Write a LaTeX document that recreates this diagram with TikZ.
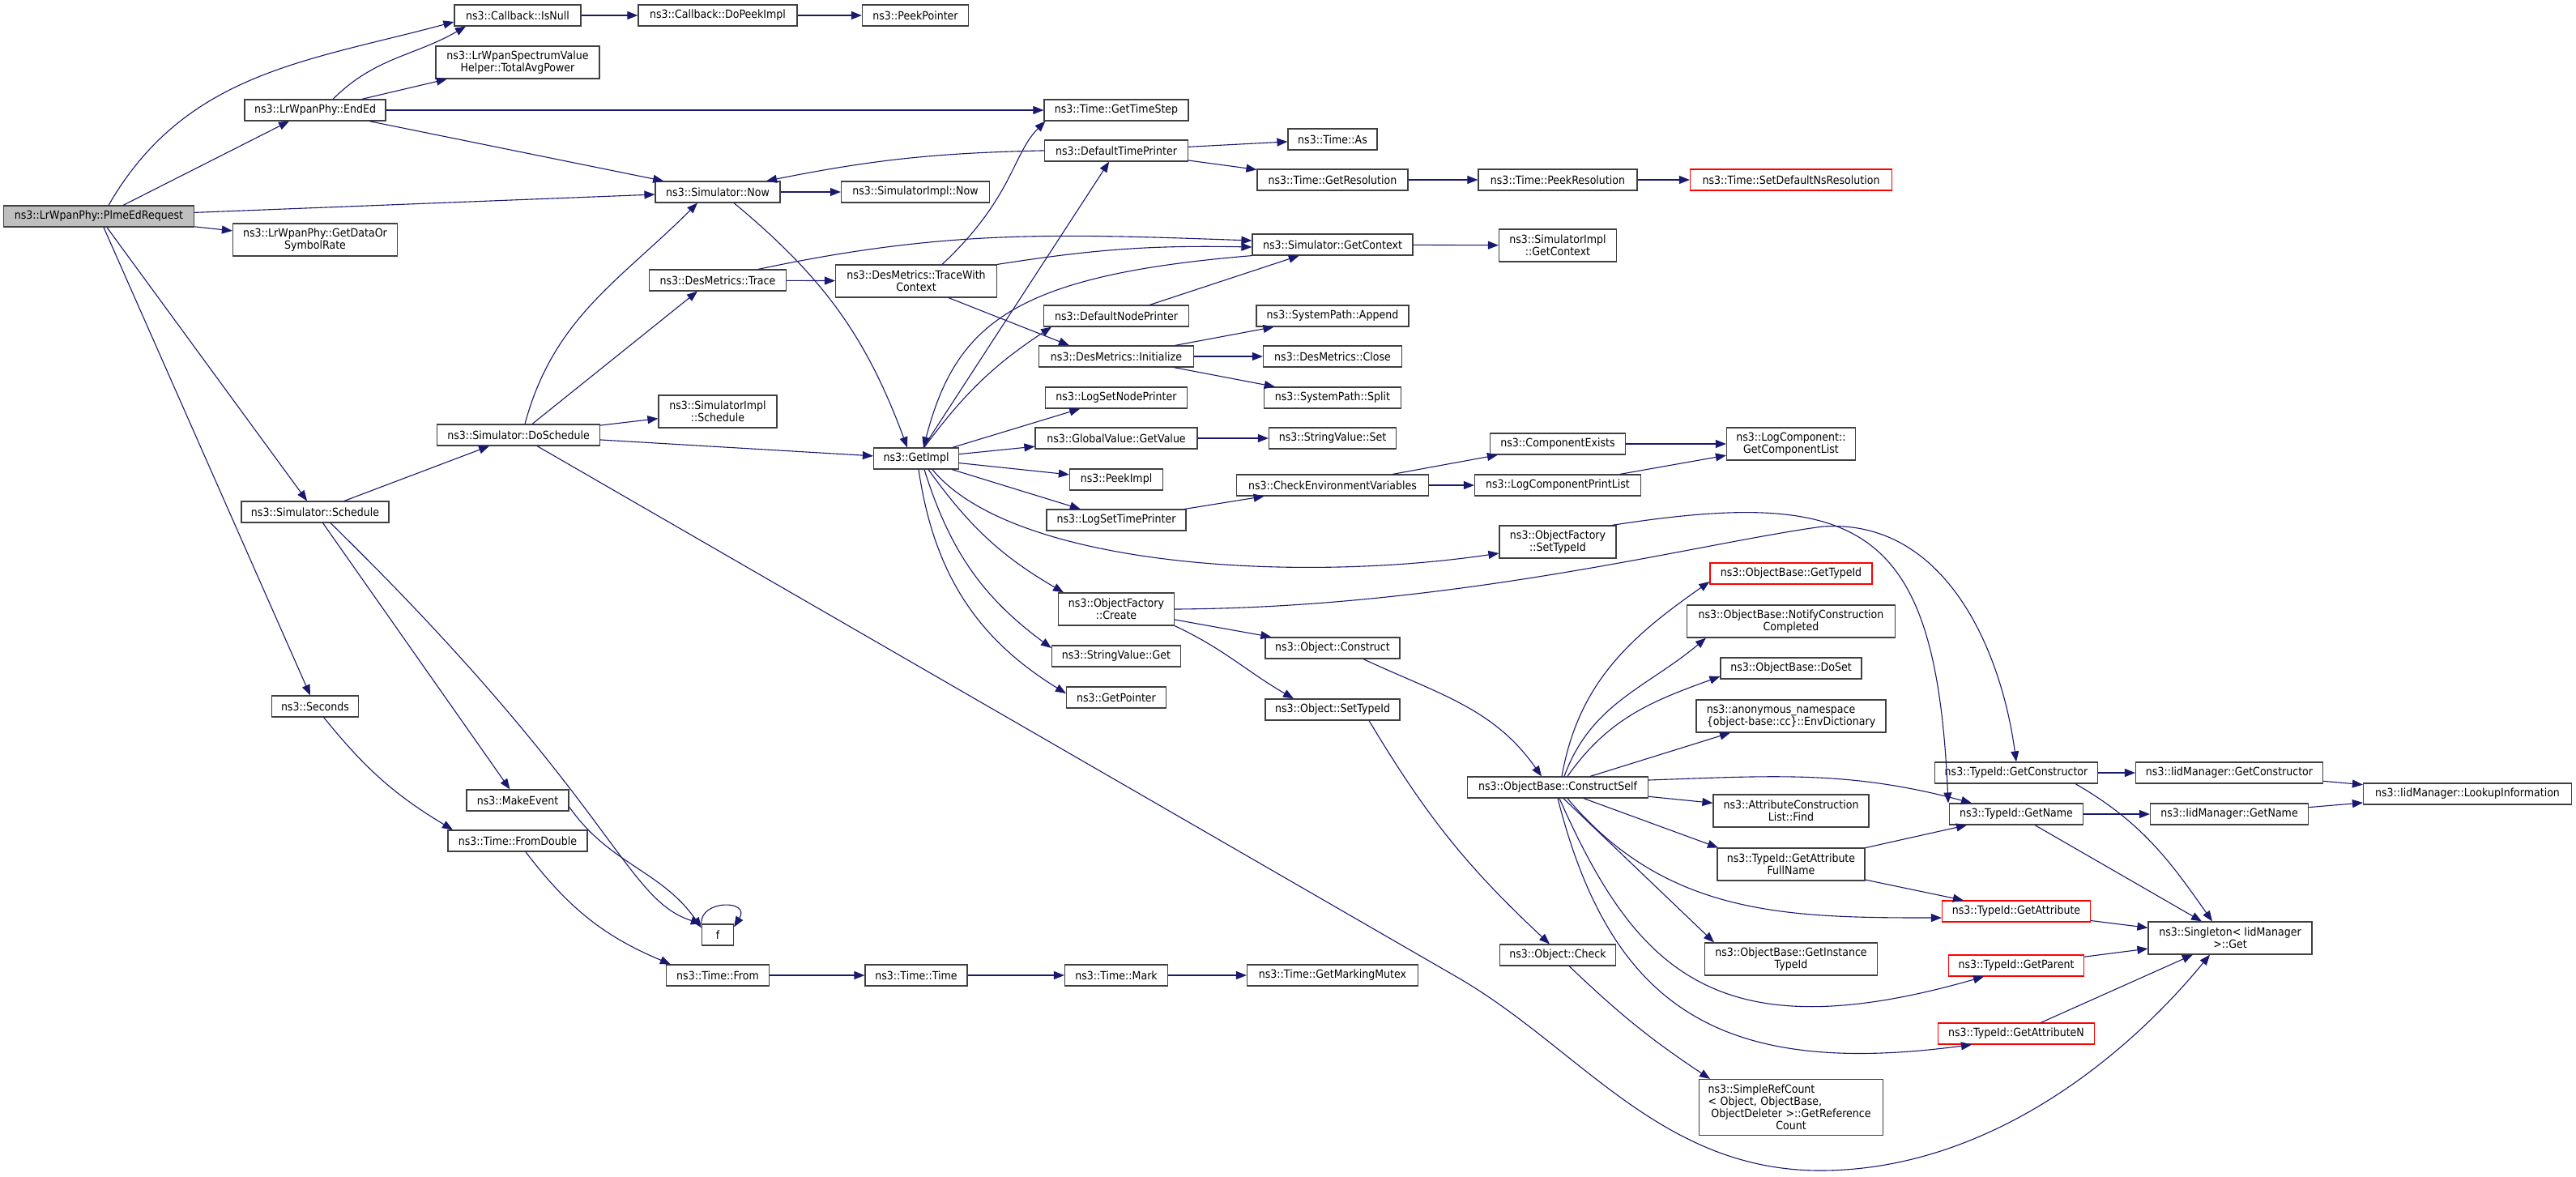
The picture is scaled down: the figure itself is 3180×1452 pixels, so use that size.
\documentclass[tikz,border=0pt]{standalone}
\usepackage{fontspec}
\setmainfont{DejaVu Sans}[FakeStretch=0.9]
\usetikzlibrary{arrows.meta}
\definecolor{edgeblue}{HTML}{191970}

\begin{document}
\begin{tikzpicture}[x=1pt,y=-1pt,
    fn/.style={draw=black!75, line width=1.2pt, fill=white, minimum height=26, inner sep=2pt,
      align=center, font=\fontsize{14}{15}\selectfont},
    twoline/.style={minimum height=40},
    missing/.style={draw=red},
    rootfn/.style={fill=gray!50},
    call/.style={draw=edgeblue, line width=1.1pt, -{Triangle[length=13pt,width=10pt]}}]
        \useasboundingbox (0,0) rectangle (3180,1452);

        \node[fn, rootfn, minimum width=235] (plme) at (122,267) {ns3::LrWpanPhy::PlmeEdRequest};
        \node[fn, minimum width=156] (isnull) at (639,19) {ns3::Callback::IsNull};
        \node[fn, twoline, minimum width=202] (avgpow) at (639,77) {ns3::LrWpanSpectrumValue\\Helper::TotalAvgPower};
        \node[fn, minimum width=174] (ended) at (389,136) {ns3::LrWpanPhy::EndEd};
        \node[fn, twoline, minimum width=203] (rate) at (389,296) {ns3::LrWpanPhy::GetDataOr\\SymbolRate};
        \node[fn, minimum width=182] (sschedule) at (389,632) {ns3::Simulator::Schedule};
        \node[fn, minimum width=107] (seconds) at (389,872) {ns3::Seconds};

        \node[fn, minimum width=196] (dopeek) at (886,19) {ns3::Callback::DoPeekImpl};
        \node[fn, minimum width=131] (peekptr) at (1130,19) {ns3::PeekPointer};
        \node[fn, minimum width=154] (now) at (886,237) {ns3::Simulator::Now};
        \node[fn, minimum width=183] (implnow) at (1130,237) {ns3::SimulatorImpl::Now};
        \node[fn, minimum width=169] (trace) at (886,346) {ns3::DesMetrics::Trace};
        \node[fn, twoline, minimum width=199] (twc) at (1131,347) {ns3::DesMetrics::TraceWith\\Context};
        \node[fn, minimum width=201] (doschedule) at (640,537) {ns3::Simulator::DoSchedule};
        \node[fn, twoline, minimum width=146] (implsched) at (886,508) {ns3::SimulatorImpl\\::Schedule};
        \node[fn, minimum width=126] (makeevent) at (639,988) {ns3::MakeEvent};
        \node[fn, minimum width=172] (fromdouble) at (639,1038) {ns3::Time::FromDouble};
        \node[fn, minimum width=39] (f) at (886,1154) {f};
        \node[fn, minimum width=127] (tfrom) at (886,1204) {ns3::Time::From};
        \node[fn, minimum width=126] (ttime) at (1131,1204) {ns3::Time::Time};
        \node[fn, minimum width=127] (tmark) at (1378,1204) {ns3::Time::Mark};
        \node[fn, minimum width=211] (mutex) at (1645,1204) {ns3::Time::GetMarkingMutex};

        \node[fn, minimum width=105] (getimpl) at (1131,566) {ns3::GetImpl};
        \node[fn, minimum width=178] (timestep) at (1378,136) {ns3::Time::GetTimeStep};
        \node[fn, minimum width=177] (dtp) at (1378,186) {ns3::DefaultTimePrinter};
        \node[fn, minimum width=179] (dnp) at (1378,390) {ns3::DefaultNodePrinter};
        \node[fn, minimum width=191] (init) at (1378,440) {ns3::DesMetrics::Initialize};
        \node[fn, minimum width=175] (lsnp) at (1378,491) {ns3::LogSetNodePrinter};
        \node[fn, minimum width=200] (gvget) at (1378,541) {ns3::GlobalValue::GetValue};
        \node[fn, minimum width=115] (peekimpl) at (1378,592) {ns3::PeekImpl};
        \node[fn, minimum width=172] (lstp) at (1378,642) {ns3::LogSetTimePrinter};
        \node[fn, twoline, minimum width=143] (ofcreate) at (1378,752) {ns3::ObjectFactory\\::Create};
        \node[fn, minimum width=159] (svget) at (1378,810) {ns3::StringValue::Get};
        \node[fn, minimum width=123] (getptr) at (1378,861) {ns3::GetPointer};

        \node[fn, minimum width=110] (as) at (1645,172) {ns3::Time::As};
        \node[fn, minimum width=186] (getres) at (1645,222) {ns3::Time::GetResolution};
        \node[fn, minimum width=198] (ctx) at (1645,302) {ns3::Simulator::GetContext};
        \node[fn, minimum width=188] (append) at (1645,390) {ns3::SystemPath::Append};
        \node[fn, minimum width=171] (close) at (1645,440) {ns3::DesMetrics::Close};
        \node[fn, minimum width=169] (split) at (1645,491) {ns3::SystemPath::Split};
        \node[fn, minimum width=157] (svset) at (1645,541) {ns3::StringValue::Set};
        \node[fn, minimum width=237] (cev) at (1645,599) {ns3::CheckEnvironmentVariables};
        \node[fn, minimum width=166] (oconstruct) at (1645,800) {ns3::Object::Construct};
        \node[fn, minimum width=166] (osettid) at (1645,876) {ns3::Object::SetTypeId};

        \node[fn, minimum width=196] (peekres) at (1923,222) {ns3::Time::PeekResolution};
        \node[fn, twoline, minimum width=145] (implctx) at (1923,303) {ns3::SimulatorImpl\\::GetContext};
        \node[fn, minimum width=167] (cexists) at (1923,548) {ns3::ComponentExists};
        \node[fn, minimum width=205] (lcpl) at (1923,599) {ns3::LogComponentPrintList};
        \node[fn, twoline, minimum width=144] (ofsettid) at (1923,669) {ns3::ObjectFactory\\::SetTypeId};
        \node[fn, minimum width=223] (cself) at (1923,972) {ns3::ObjectBase::ConstructSelf};
        \node[fn, minimum width=143] (check) at (1923,1179) {ns3::Object::Check};

        \node[fn, missing, minimum width=249] (setdef) at (2211,222) {ns3::Time::SetDefaultNsResolution};
        \node[fn, twoline, minimum width=159] (complist) at (2211,548) {ns3::LogComponent::\\GetComponentList};
        \node[fn, missing, minimum width=200] (obgettid) at (2211,708) {ns3::ObjectBase::GetTypeId};
        \node[fn, twoline, minimum width=257] (notify) at (2211,767) {ns3::ObjectBase::NotifyConstruction\\Completed};
        \node[fn, minimum width=174] (doset) at (2211,825) {ns3::ObjectBase::DoSet};
        \node[fn, twoline, align=left, minimum width=234] (envdict) at (2211,884) {ns3::anonymous\_namespace\\\{object-base::cc\}::EnvDictionary};
        \node[fn, twoline, minimum width=192] (acfind) at (2211,1001) {ns3::AttributeConstruction\\List::Find};
        \node[fn, twoline, minimum width=182] (fullname) at (2211,1067) {ns3::TypeId::GetAttribute\\FullName};
        \node[fn, twoline, minimum width=213] (instid) at (2211,1184) {ns3::ObjectBase::GetInstance\\TypeId};
        \node[fn, minimum height=69, minimum width=227, text width=205] (refcount) at (2211,1367)
          {\makebox[\linewidth][l]{ns3::SimpleRefCount}\\\makebox[\linewidth][l]{< Object, ObjectBase,}\\ObjectDeleter >::GetReference\\Count};

        \node[fn, minimum width=201] (getctor) at (2489,954) {ns3::TypeId::GetConstructor};
        \node[fn, minimum width=165] (getname) at (2489,1005) {ns3::TypeId::GetName};
        \node[fn, missing, minimum width=183] (getattr) at (2489,1125) {ns3::TypeId::GetAttribute};
        \node[fn, missing, minimum width=167] (getparent) at (2489,1192) {ns3::TypeId::GetParent};
        \node[fn, missing, minimum width=193] (getattrn) at (2489,1276) {ns3::TypeId::GetAttributeN};
        \node[fn, minimum width=231] (iidctor) at (2752,954) {ns3::IidManager::GetConstructor};
        \node[fn, minimum width=195] (iidname) at (2752,1005) {ns3::IidManager::GetName};
        \node[fn, twoline, minimum width=202] (singleton) at (2753,1158) {ns3::Singleton< IidManager\\>::Get};
        \node[fn, minimum width=257] (lookup) at (3046,980) {ns3::IidManager::LookupInformation};

        % PlmeEdRequest and EndEd
        \draw[call] ([xshift=12pt]plme.north) to[out=60, in=195] ([yshift=-8pt]isnull.west);
        \draw[call] ([xshift=30pt]plme.north) -- ([xshift=-32pt]ended.south);
        \draw[call] (plme) -- (now);
        \draw[call] (plme) -- (rate);
        \draw[call] (plme) -- (sschedule);
        \draw[call] (plme) -- (seconds);
        \draw[call] ([xshift=22pt]ended.north) to[out=45, in=210] ([xshift=-64pt]isnull.south);
        \draw[call] (ended) -- (avgpow);
        \draw[call] (ended) -- (timestep);
        \draw[call] (ended) -- (now);
        \draw[call] (isnull) -- (dopeek);
        \draw[call] (dopeek) -- (peekptr);

        % Simulator
        \draw[call] (now) -- (implnow);
        \draw[call] ([xshift=20pt]now.south) to[bend left=15] ([xshift=-11pt]getimpl.north);
        \draw[call] (dtp) to[bend right=5] ([xshift=60pt]now.north);
        \draw[call] (dtp) -- (as);
        \draw[call] (dtp) -- (getres);
        \draw[call] (getres) -- (peekres);
        \draw[call] (peekres) -- (setdef);
        \draw[call] (sschedule) -- (doschedule);
        \draw[call] (sschedule) -- (makeevent);
        \draw[call] ([xshift=19pt]sschedule.south) .. controls (760,990) and (770,1110) .. (f.north west);
        \draw[call] ([yshift=-8pt]makeevent.east) to[out=-55, in=125] ([yshift=-5pt]f.north west);
        \draw[call] (f.north west) .. controls ([xshift=-2pt,yshift=30pt]f.north west) and ([xshift=21pt,yshift=30pt]f.north east) .. ([yshift=-4pt]f.north east);
        \draw[call] (seconds) to[bend right=10] ([xshift=-80pt]fromdouble.north);
        \draw[call] (fromdouble) to[bend right=15] ([xshift=6pt]tfrom.north west);
        \draw[call] (tfrom) -- (ttime);
        \draw[call] (ttime) -- (tmark);
        \draw[call] (tmark) -- (mutex);

        \draw[call] ([xshift=8pt]doschedule.north) to[out=75, in=225] ([xshift=-25pt]now.south);
        \draw[call] ([xshift=17pt]doschedule.north) -- ([xshift=-25pt]trace.south);
        \draw[call] (doschedule) -- (implsched);
        \draw[call] (doschedule) -- (getimpl);
        \draw[call] ([xshift=23pt]doschedule.south) -- (1800,1207) .. controls (1950,1294) and (2050,1445) .. (2247,1445)
          .. controls (2450,1445) and (2620,1310) .. ([xshift=-25pt]singleton.south);

        % DesMetrics
        \draw[call] ([xshift=50pt]trace.north) to[out=12, in=178] ([yshift=5pt]ctx.west);
        \draw[call] (trace) -- (twc);
        \draw[call] ([xshift=32pt]twc.north) .. controls (1250,245) and (1250,190) .. ([xshift=2pt]timestep.south west);
        \draw[call] (twc.north east) to[bend left=5] ([yshift=-3pt]ctx.west);
        \draw[call] ([xshift=40pt]twc.south) -- ([xshift=-58pt]init.north);
        \draw[call] (init) -- (append);
        \draw[call] (init) -- (close);
        \draw[call] (init) -- (split);

        % GetImpl
        \draw[call] (getimpl) -- (dtp);
        \draw[call] (ctx.south west) .. controls (1250,340) and (1180,400) .. ([xshift=9pt]getimpl.north);
        \draw[call] (getimpl) to[bend left=10] ([xshift=-80pt]dnp.south);
        \draw[call] (getimpl) -- (lsnp);
        \draw[call] (getimpl) -- (gvget);
        \draw[call] (getimpl) -- (peekimpl);
        \draw[call] (getimpl) -- (lstp);
        \draw[call] ([xshift=20pt]getimpl.south) .. controls (1250,700) and (1600,720) .. ([yshift=-14pt]ofsettid.west);
        \draw[call] ([xshift=15pt]getimpl.south) to[bend right=12] ([xshift=-65pt]ofcreate.north);
        \draw[call] ([xshift=10pt]getimpl.south) to[bend right=18] ([yshift=10pt]svget.west);
        \draw[call] ([xshift=3pt]getimpl.south) to[bend right=25] ([yshift=5pt]getptr.west);
        \draw[call] (ctx) -- (implctx);
        \draw[call] (dnp) -- (ctx);
        \draw[call] (gvget) -- (svset);
        \draw[call] (lstp) -- (cev);
        \draw[call] (cev) -- (cexists);
        \draw[call] (cev) -- (lcpl);
        \draw[call] (cexists) -- (complist);
        \draw[call] (lcpl) -- (complist);

        % ObjectFactory and ObjectBase
        \draw[call] ([xshift=67pt]ofsettid.north) .. controls (2300,600) and (2390,650) .. ([xshift=-84pt]getname.north);
        \draw[call] (ofcreate.east) .. controls (1800,750) and (2100,670) .. (2250,650)
          .. controls (2400,640) and (2470,800) .. (getctor.north);
        \draw[call] (ofcreate) -- (oconstruct);
        \draw[call] (ofcreate.south east) to[out=-25, in=150] ([xshift=-48pt]osettid.north);
        \draw[call] ([xshift=38pt]oconstruct.south) to[out=-25, in=125] ([xshift=-20pt]cself.north);
        \draw[call] ([xshift=45pt]osettid.south) to[bend right=8] ([xshift=-10pt]check.north);
        \draw[call] (check) to[bend right=5] ([xshift=-100pt]refcount.north);

        \draw[call] ([xshift=5pt]cself.north) to[out=80, in=215] ([yshift=-10pt]obgettid.west);
        \draw[call] ([xshift=8pt]cself.north) to[out=70, in=220] ([xshift=24pt]notify.south west);
        \draw[call] ([xshift=12pt]cself.north) to[out=55, in=200] ([yshift=-10pt]doset.west);
        \draw[call] ([xshift=40pt]cself.north) -- ([xshift=-75pt]envdict.south);
        \draw[call] ([yshift=9pt]cself.east) to[out=2, in=165] ([xshift=-55pt]getname.north);
        \draw[call] (cself) -- (acfind);
        \draw[call] ([xshift=32pt]cself.south) -- ([xshift=-90pt]fullname.north);
        \draw[call] ([xshift=12pt]cself.south) to[out=-50, in=180] ([yshift=-8pt]getattr.west);
        \draw[call] ([xshift=7pt]cself.south) -- ([xshift=-95pt]instid.north);
        \draw[call] ([xshift=2pt]cself.south) .. controls (2020,1200) and (2120,1300) .. ([xshift=-40pt]getparent.south);
        \draw[call] (cself.south) .. controls (1990,1250) and (2130,1330) .. ([xshift=-55pt]getattrn.south);
        \draw[call] (fullname) -- (getname);
        \draw[call] (fullname) -- (getattr);

        % TypeId and IidManager
        \draw[call] (getctor) -- (iidctor);
        \draw[call] ([xshift=73pt]getctor.south) to[out=-30, in=125] ([xshift=-22pt]singleton.north);
        \draw[call] (getname) -- (iidname);
        \draw[call] ([xshift=23pt]getname.south) -- ([xshift=-35pt]singleton.north);
        \draw[call] (iidctor) -- (lookup);
        \draw[call] (iidname) -- (lookup);
        \draw[call] (getattr) -- (singleton);
        \draw[call] (getparent) -- (singleton);
        \draw[call] (getattrn) -- (singleton);
      \end{tikzpicture}
\end{document}
